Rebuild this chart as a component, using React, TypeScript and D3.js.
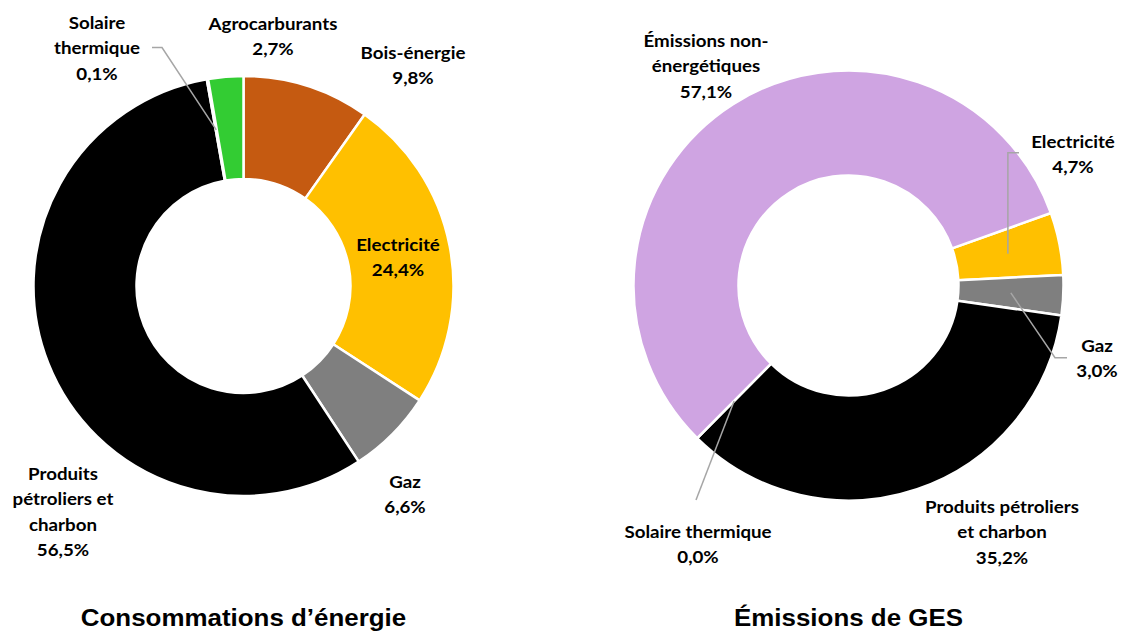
import React from "react";
import * as d3 from "d3";

// Energy consumption shares (%)
const consoCategories = ["Bois-énergie", "Electricité", "Gaz", "Produits pétroliers et charbon", "Solaire thermique", "Agrocarburants"];
const consoValues = [9.8, 24.4, 6.6, 56.5, 0.1, 2.7];
const consoLabels = ["9,8%", "24,4%", "6,6%", "56,5%", "0,1%", "2,7%"];

// Greenhouse-gas emission shares (%)
const gesCategories = ["Electricité", "Gaz", "Produits pétroliers et charbon", "Solaire thermique", "Émissions non-énergétiques"];
const gesValues = [4.7, 3.0, 35.2, 0.0, 57.1];
const gesLabels = ["4,7%", "3,0%", "35,2%", "0,0%", "57,1%"];

const colorOf: Record<string, string> = {
  "Bois-énergie": "#C55A11",
  "Electricité": "#FFC000",
  "Gaz": "#7F7F7F",
  "Produits pétroliers et charbon": "#000000",
  "Solaire thermique": "#FFE699",
  "Agrocarburants": "#33CC33",
  "Émissions non-énergétiques": "#CFA4E2",
};

const LABEL_FONT = "Lato, 'Open Sans', sans-serif";
const TITLE_FONT = "'Liberation Sans', Arial, sans-serif";
const LABEL_SIZE = 17.5;
const LABEL_STRETCH = 1.07;
const TITLE_SIZE = 24;
const TITLE_STRETCH = 1.08;

type LabelSpec = {
  lines: string[]; // text lines before the value line
  x: number;
  y: number; // baseline of first line
  leader?: { x: number; y: number }; // where the leader leaves the label
  leaderMode?: "elbowH" | "elbowV";
};

type DonutProps = {
  cx: number;
  cy: number;
  outer: number;
  inner: number;
  startDeg: number;
  categories: string[];
  values: number[];
  valueLabels: string[];
  labels: Record<string, LabelSpec>;
  title: string;
  titleY: number;
};

const LINE_H = 25.5;

function Donut(p: DonutProps) {
  const start = (p.startDeg * Math.PI) / 180;
  const pie = d3
    .pie<number>()
    .sort(null)
    .value((d) => d)
    .startAngle(start)
    .endAngle(start + 2 * Math.PI);
  const arcs = pie(p.values);
  const arc = d3.arc<d3.PieArcDatum<number>>().innerRadius(p.inner).outerRadius(p.outer);
  const mid = d3
    .arc<d3.PieArcDatum<number>>()
    .innerRadius((p.inner + p.outer) / 2)
    .outerRadius((p.inner + p.outer) / 2);

  return (
    <g>
      <g transform={`translate(${p.cx},${p.cy})`}>
        {arcs.map((a, i) => (
          <path
            key={p.categories[i]}
            d={arc(a) || ""}
            fill={colorOf[p.categories[i]]}
            stroke="#ffffff"
            strokeWidth={2.5}
            strokeLinejoin="round"
          />
        ))}
      </g>
      {arcs.map((a, i) => {
        const name = p.categories[i];
        const spec = p.labels[name];
        if (!spec) return null;
        const [mx, my] = mid.centroid(a);
        const tx = p.cx + mx;
        const ty = p.cy + my;
        let leader: string | null = null;
        if (spec.leader) {
          const l = spec.leader;
          if (spec.leaderMode === "elbowV") {
            leader = `M${l.x},${l.y}L${tx},${l.y}L${tx},${ty}`;
          } else if (spec.leaderMode === "elbowH") {
            leader = `M${l.x},${l.y}L${l.x + (l.x < tx ? 10 : -12)},${l.y}L${tx},${ty}`;
          } else {
            leader = `M${l.x},${l.y}L${tx},${ty}`;
          }
        }
        const allLines = [...spec.lines, p.valueLabels[i]];
        return (
          <g key={`lab-${name}`}>
            {leader && <path d={leader} fill="none" stroke="#A6A6A6" strokeWidth={1.5} />}
            <text
              transform={`translate(${spec.x},${spec.y}) scale(${LABEL_STRETCH},1)`}
              textAnchor="middle"
              fontFamily={LABEL_FONT}
              fontWeight={700}
              fontSize={LABEL_SIZE}
              fill="#000"
            >
              {allLines.map((t, k) => (
                <tspan key={k} x={0} y={k * LINE_H}>
                  {t}
                </tspan>
              ))}
            </text>
          </g>
        );
      })}
      <text
        transform={`translate(${p.cx},${p.titleY}) scale(${TITLE_STRETCH},1)`}
        textAnchor="middle"
        fontFamily={TITLE_FONT}
        fontWeight={700}
        fontSize={TITLE_SIZE}
        fill="#000"
      >
        {p.title}
      </text>
    </g>
  );
}

const consoLabelLayout: Record<string, LabelSpec> = {
  "Solaire thermique": { lines: ["Solaire", "thermique"], x: 97, y: 29, leader: { x: 152, y: 47.5 }, leaderMode: "elbowH" },
  "Agrocarburants": { lines: ["Agrocarburants"], x: 273, y: 30 },
  "Bois-énergie": { lines: ["Bois-énergie"], x: 413, y: 59 },
  "Electricité": { lines: ["Electricité"], x: 398, y: 251 },
  "Gaz": { lines: ["Gaz"], x: 405, y: 488 },
  "Produits pétroliers et charbon": { lines: ["Produits", "pétroliers et", "charbon"], x: 63, y: 480 },
};

const gesLabelLayout: Record<string, LabelSpec> = {
  "Émissions non-énergétiques": { lines: ["Émissions non-", "énergétiques"], x: 706, y: 47 },
  "Electricité": { lines: ["Electricité"], x: 1073, y: 148, leader: { x: 1019, y: 152.7 }, leaderMode: "elbowV" },
  "Gaz": { lines: ["Gaz"], x: 1097, y: 352, leader: { x: 1067, y: 357.7 }, leaderMode: "elbowH" },
  "Produits pétroliers et charbon": { lines: ["Produits pétroliers", "et charbon"], x: 1002, y: 513 },
  "Solaire thermique": { lines: ["Solaire thermique"], x: 698, y: 538, leader: { x: 696, y: 500 } },
};

export default function App() {
  return (
    <svg
      width={1122}
      height={632}
      viewBox="0 0 1122 632"
      style={{ position: "absolute", left: 0, top: 0, display: "block", background: "#fff" }}
    >
      <rect width={1122} height={632} fill="#fff" />
      <Donut
        cx={243.5}
        cy={286}
        outer={210}
        inner={107}
        startDeg={0}
        categories={consoCategories}
        values={consoValues}
        valueLabels={consoLabels}
        labels={consoLabelLayout}
        title="Consommations d’énergie"
        titleY={626}
      />
      <Donut
        cx={848.5}
        cy={285.5}
        outer={215}
        inner={110}
        startDeg={70.3}
        categories={gesCategories}
        values={gesValues}
        valueLabels={gesLabels}
        labels={gesLabelLayout}
        title="Émissions de GES"
        titleY={626}
      />
    </svg>
  );
}
